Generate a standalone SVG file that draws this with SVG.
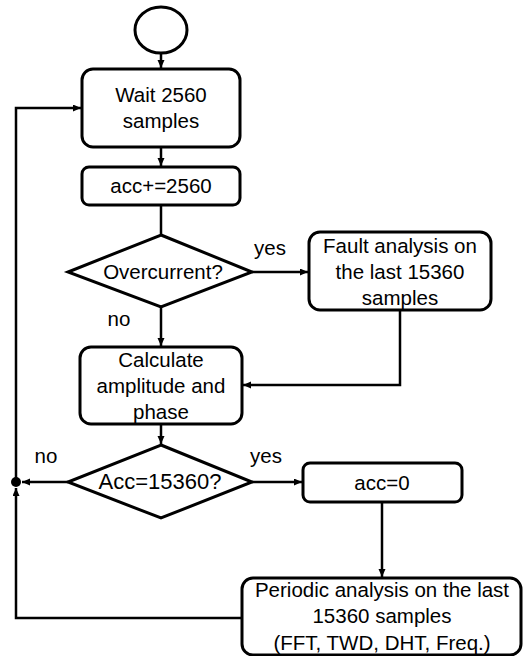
<svg xmlns="http://www.w3.org/2000/svg" width="523" height="656" viewBox="0 0 523 656">
  <style>
    .box { fill: #fff; stroke: #000; stroke-width: 3; }
    .wire { fill: none; stroke: #000; stroke-width: 2.5; }
    .lbl { font-family: "Liberation Sans", Arial, sans-serif; font-size: 20.5px; fill: #000; text-anchor: middle; }
    .big { font-size: 22px; }
  </style>
  <defs>
    <marker id="arrow" markerUnits="userSpaceOnUse" markerWidth="9" markerHeight="8" refX="8" refY="3.5" orient="auto">
      <path d="M0,0 L8,3.5 L0,7 z" fill="#000"/>
    </marker>
  </defs>

  <rect width="523" height="656" fill="#fff"/>

  <!-- connectors -->
  <g id="connectors">
    <path class="wire" d="M161,53 V68" marker-end="url(#arrow)"/>
    <path class="wire" d="M161,147 V166" marker-end="url(#arrow)"/>
    <path class="wire" d="M161,205 V234"/>
    <path class="wire" d="M252,272 H308" marker-end="url(#arrow)"/>
    <path class="wire" d="M161,307 V346" marker-end="url(#arrow)"/>
    <path class="wire" d="M400,310 V385 H243" marker-end="url(#arrow)"/>
    <path class="wire" d="M161,424 V444" marker-end="url(#arrow)"/>
    <path class="wire" d="M252,482 H302" marker-end="url(#arrow)"/>
    <path class="wire" d="M382,502 V577" marker-end="url(#arrow)"/>
    <path class="wire" d="M68,482 H22" marker-end="url(#arrow)"/>
    <path class="wire" d="M242,618 H16 V488" marker-end="url(#arrow)"/>
    <path class="wire" d="M16,482 V108 H81" marker-end="url(#arrow)"/>
    <circle cx="16" cy="482" r="5" fill="#000"/>
    <text class="lbl" x="270" y="255">yes</text>
    <text class="lbl" x="119" y="326">no</text>
    <text class="lbl" x="46" y="463">no</text>
    <text class="lbl" x="266" y="463">yes</text>
  </g>

  <g id="start">
    <ellipse class="box" cx="161" cy="30" rx="26" ry="23"/>
  </g>

  <g id="wait">
    <rect class="box" x="82" y="69" width="158" height="78" rx="11"/>
    <text class="lbl" x="161" y="102">Wait 2560</text>
    <text class="lbl" x="161" y="128">samples</text>
  </g>

  <g id="acc-add">
    <rect class="box" x="82" y="167" width="158" height="38" rx="7"/>
    <text class="lbl" x="161" y="193">acc+=2560</text>
  </g>

  <g id="overcurrent">
    <polygon class="box" points="161,235 252,272 161,307 68,272"/>
    <text class="lbl" x="163" y="279">Overcurrent?</text>
  </g>

  <g id="fault">
    <rect class="box" x="309" y="232" width="182" height="78" rx="11"/>
    <text class="lbl" x="400" y="253">Fault analysis on</text>
    <text class="lbl" x="400" y="279">the last 15360</text>
    <text class="lbl" x="400" y="305">samples</text>
  </g>

  <g id="calculate">
    <rect class="box" x="80" y="347" width="162" height="77" rx="11"/>
    <text class="lbl" x="161" y="367">Calculate</text>
    <text class="lbl" x="161" y="393">amplitude and</text>
    <text class="lbl" x="161" y="419">phase</text>
  </g>

  <g id="acc-check">
    <polygon class="box" points="161,445 252,482 161,518 68,482"/>
    <text class="lbl big" x="160" y="489">Acc=15360?</text>
  </g>

  <g id="acc-reset">
    <rect class="box" x="303" y="463" width="159" height="39" rx="7"/>
    <text class="lbl" x="382" y="490">acc=0</text>
  </g>

  <g id="periodic">
    <rect class="box" x="242" y="578" width="279" height="77" rx="11"/>
    <text class="lbl" x="382" y="597">Periodic analysis on the last</text>
    <text class="lbl" x="382" y="623">15360 samples</text>
    <text class="lbl" x="382" y="650">(FFT, TWD, DHT, Freq.)</text>
  </g>
</svg>
